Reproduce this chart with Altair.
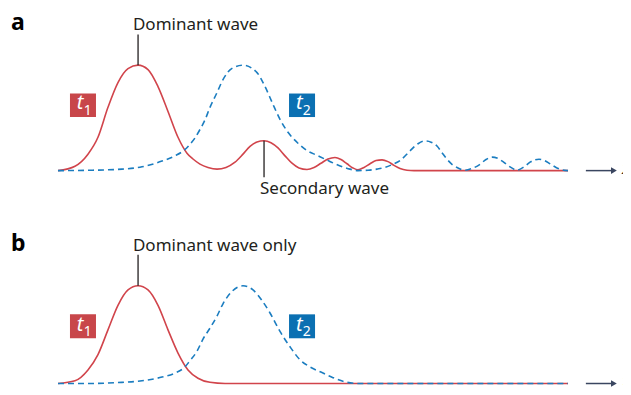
import altair as alt
import pandas as pd

# ---------------- data (x: position along the axis 0..10, y: amplitude 0..1) ----------------
RED_A_X = [0.000, 0.333, 0.588, 0.784, 0.980, 1.176, 1.373, 1.569, 1.765, 1.961, 2.157, 2.353,
           2.529, 2.647, 2.784, 2.941, 3.118, 3.294, 3.471, 3.627, 3.765, 3.902, 4.039, 4.176,
           4.314, 4.451, 4.588, 4.725, 4.882, 5.020, 5.157, 5.294, 5.431, 5.549, 5.667, 5.784,
           5.882, 6.000, 6.118, 6.235, 6.353, 6.471, 6.588, 6.706, 6.843, 6.980, 10.000]
RED_A_Y = [0.000, 0.042, 0.156, 0.316, 0.600, 0.835, 0.967, 1.000, 0.958, 0.797, 0.561, 0.316,
           0.165, 0.110, 0.062, 0.030, 0.014, 0.030, 0.080, 0.156, 0.230, 0.272, 0.283, 0.265,
           0.215, 0.140, 0.070, 0.025, 0.011, 0.030, 0.070, 0.110, 0.125, 0.105, 0.065, 0.025,
           0.008, 0.030, 0.065, 0.095, 0.102, 0.085, 0.050, 0.020, 0.004, 0.000, 0.000]

BLUE_A_X = [0.000, 0.588, 1.255, 1.647, 2.039, 2.294, 2.490, 2.588, 2.686, 2.784, 2.882, 2.980,
            3.118, 3.235, 3.412, 3.627, 3.902, 4.059, 4.216, 4.353, 4.510, 4.686, 4.882, 5.078,
            5.275, 5.431, 5.588, 5.725, 5.882, 6.078, 6.255, 6.412, 6.569, 6.706, 6.902, 7.059,
            7.196, 7.314, 7.431, 7.529, 7.627, 7.725, 7.824, 7.980, 8.118, 8.275, 8.392, 8.510,
            8.627, 8.725, 8.863, 9.000, 9.137, 9.255, 9.353, 9.431, 9.529, 9.647, 9.765, 9.882,
            10.000]
BLUE_A_Y = [0.000, 0.003, 0.014, 0.036, 0.090, 0.140, 0.200, 0.250, 0.310, 0.390, 0.480, 0.600,
            0.740, 0.863, 0.970, 1.000, 0.929, 0.797, 0.627, 0.486, 0.363, 0.269, 0.190, 0.145,
            0.100, 0.065, 0.035, 0.014, 0.000, 0.004, 0.014, 0.030, 0.061, 0.095, 0.187, 0.255,
            0.281, 0.270, 0.234, 0.170, 0.108, 0.060, 0.030, 0.004, 0.020, 0.060, 0.105, 0.128,
            0.115, 0.085, 0.035, 0.005, 0.035, 0.080, 0.103, 0.108, 0.098, 0.065, 0.030, 0.008,
            0.000]

RED_B_X = [0.000, 0.333, 0.588, 0.784, 0.980, 1.176, 1.373, 1.569, 1.765, 1.961, 2.157, 2.353,
           2.549, 2.745, 2.980, 3.275, 10.000]
RED_B_Y = [0.000, 0.028, 0.139, 0.296, 0.549, 0.800, 0.958, 1.000, 0.958, 0.800, 0.549, 0.312,
           0.139, 0.054, 0.012, 0.000, 0.000]

BLUE_B_X = [0.000, 0.588, 1.255, 1.647, 2.039, 2.294, 2.490, 2.588, 2.725, 2.843, 2.980, 3.118,
            3.235, 3.412, 3.627, 3.824, 4.000, 4.157, 4.353, 4.549, 4.745, 4.941, 5.196, 5.392,
            5.667, 5.922, 10.000]
BLUE_B_Y = [0.000, 0.000, 0.012, 0.028, 0.066, 0.107, 0.170, 0.234, 0.330, 0.454, 0.567, 0.690,
            0.816, 0.943, 1.000, 0.958, 0.849, 0.722, 0.533, 0.376, 0.243, 0.170, 0.107, 0.060,
            0.012, 0.000, 0.000]

PANEL_LETTERS = ["a", "b"]
PEAK_NOTES = ["Dominant wave", "Dominant wave only"]
SECONDARY_NOTE = "Secondary wave"
TIME_LABELS = ["t", "t"]
TIME_SUBS = ["1", "2"]
AXIS_LABEL = "x"

# ---------------- styling ----------------
RED = "#d1444b"
BLUE = "#1b7dc0"
RED_BOX = "#c8464a"
BLUE_BOX = "#0b70b2"
INK = "#231f20"
ARROW = "#3a4660"
FONT = "Noto Sans"

X_DOMAIN = [-0.98, 11.078]
XS = alt.Scale(domain=X_DOMAIN, nice=False, zero=False)


def panel(rx, ry, bx, by, ydom, letter, note, secondary, lay):
    ys = alt.Scale(domain=ydom, nice=False, zero=False)
    X = lambda f: alt.X(f, type="quantitative", scale=XS, axis=None)
    Y = lambda f: alt.Y(f, type="quantitative", scale=ys, axis=None)

    red = alt.Chart(pd.DataFrame({"x": rx, "y": ry})).mark_line(
        color=RED, strokeWidth=1.6, interpolate="monotone"
    ).encode(x=X("x"), y=Y("y"))
    blue = alt.Chart(pd.DataFrame({"x": bx, "y": by})).mark_line(
        color=BLUE, strokeWidth=1.6, strokeDash=[6, 4], interpolate="monotone"
    ).encode(x=X("x"), y=Y("y"))

    boxes_df = pd.DataFrame({
        "k": ["t1", "t2"], "x": [0.235, 4.53], "x2": [0.745, 5.04],
        "y": [lay["box0"]] * 2, "y2": [lay["box1"]] * 2,
        "t": TIME_LABELS, "s": TIME_SUBS,
        "tx": [0.37, 4.665], "sx": [0.505, 4.80],
        "ty": [lay["t"]] * 2, "sy": [lay["sub"]] * 2,
    })
    boxes = alt.Chart(boxes_df).mark_rect().encode(
        x=X("x"), x2="x2", y=Y("y"), y2="y2",
        color=alt.Color("k:N", scale=alt.Scale(domain=["t1", "t2"], range=[RED_BOX, BLUE_BOX]), legend=None),
    )
    tlab = alt.Chart(boxes_df).mark_text(
        font=FONT, fontSize=20, fontStyle="italic", color="white", align="left", baseline="alphabetic"
    ).encode(x=X("tx"), y=Y("ty"), text="t:N")
    slab = alt.Chart(boxes_df).mark_text(
        font=FONT, fontSize=14, color="white", align="left", baseline="alphabetic"
    ).encode(x=X("sx"), y=Y("sy"), text="s:N")

    notes = pd.DataFrame({"x": [1.47], "y": [lay["note"]], "t": [note]})
    leaders = pd.DataFrame({"x": [1.57], "y": [1.0], "y2": [lay["lead"]]})
    if secondary:
        notes = pd.concat([notes, pd.DataFrame({"x": [3.96], "y": [-0.222], "t": [SECONDARY_NOTE]})])
        leaders = pd.concat([leaders, pd.DataFrame({"x": [4.04], "y": [0.283], "y2": [-0.064]})])
    note_t = alt.Chart(notes).mark_text(
        font=FONT, fontSize=17, color=INK, align="left", baseline="alphabetic"
    ).encode(x=X("x"), y=Y("y"), text="t:N")
    lead = alt.Chart(leaders).mark_rule(color=INK, strokeWidth=1.3).encode(x=X("x"), y=Y("y"), y2="y2")

    letter_t = alt.Chart(pd.DataFrame({"x": [-0.92], "y": [lay["note"]], "t": [letter]})).mark_text(
        font=FONT, fontSize=23, fontWeight="bold", color="black", align="left", baseline="alphabetic"
    ).encode(x=X("x"), y=Y("y"), text="t:N")

    arrow_line = alt.Chart(pd.DataFrame({"x": [10.35], "x2": [10.90], "y": [0.0]})).mark_rule(
        color=ARROW, strokeWidth=1.5
    ).encode(x=X("x"), x2="x2", y=Y("y"))
    arrow_head = alt.Chart(pd.DataFrame({"x": [10.90], "y": [0.0]})).mark_point(
        shape="triangle-right", filled=True, color=ARROW, size=45, opacity=1
    ).encode(x=X("x"), y=Y("y"))
    axis_t = alt.Chart(pd.DataFrame({"x": [11.06], "y": [-0.035], "t": [AXIS_LABEL]})).mark_text(
        font=FONT, fontSize=17, fontStyle="italic", color=INK, align="left", baseline="alphabetic", clip=True
    ).encode(x=X("x"), y=Y("y"), text="t:N")

    return alt.layer(
        red, blue, boxes, tlab, slab, lead, note_t, letter_t, arrow_line, arrow_head, axis_t
    )


LAY_A = {"box0": 0.508, "box1": 0.731, "t": 0.58, "sub": 0.523, "note": 1.335, "lead": 1.29}
LAY_B = {"box0": 0.463, "box1": 0.708, "t": 0.542, "sub": 0.484, "note": 1.358, "lead": 1.319}

pa = panel(RED_A_X, RED_A_Y, BLUE_A_X, BLUE_A_Y, [-2.033, 1.542], PANEL_LETTERS[0], PEAK_NOTES[0], True, LAY_A)
pb = panel(RED_B_X, RED_B_Y, BLUE_B_X, BLUE_B_Y, [-0.0153, 3.844], PANEL_LETTERS[1], PEAK_NOTES[1], False, LAY_B)

chart = alt.layer(pa, pb).resolve_scale(y="independent").properties(
    width=615, height=379, padding=0, background="white",
    autosize=alt.AutoSizeParams(type="fit", contains="padding"),
).configure_view(stroke="transparent")

chart.save("out.html", embed_options={"renderer": "svg", "actions": False})
